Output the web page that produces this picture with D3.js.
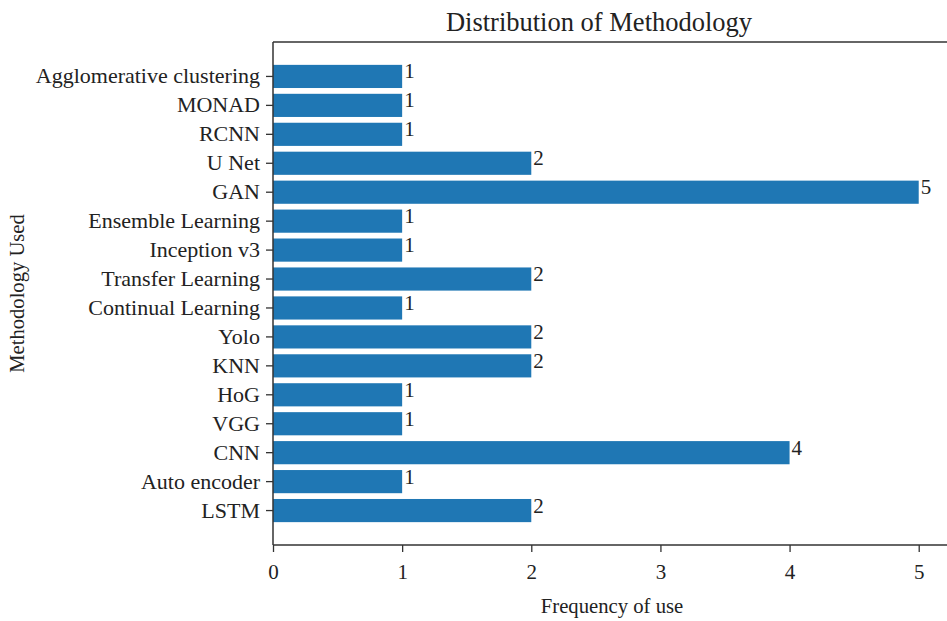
<!DOCTYPE html>
<html>
<head>
<meta charset="utf-8">
<script src="https://cdn.jsdelivr.net/npm/d3@7"></script>
<style>
  html, body { margin: 0; padding: 0; background: #fff; }
  svg { display: block; }
  text { font-family: "Liberation Serif", "Times New Roman", serif; fill: #222; }
</style>
</head>
<body>
<svg id="chart" width="947" height="621"></svg>
<script>
// categories listed bottom-to-top as in the source plot
const categories = ["LSTM", "Auto encoder", "CNN", "VGG", "HoG", "KNN", "Yolo",
  "Continual Learning", "Transfer Learning", "Inception v3", "Ensemble Learning",
  "GAN", "U Net", "RCNN", "MONAD", "Agglomerative clustering"];
const counts = [2, 1, 4, 1, 1, 2, 2, 1, 2, 1, 1, 5, 2, 1, 1, 1];
const xTicks = [0, 1, 2, 3, 4, 5];
const title = "Distribution of Methodology";
const xLabel = "Frequency of use";
const yLabel = "Methodology Used";

(function () {
const svg = d3.select("#chart");
const mLeft = 273, mRight = 951, mTop = 42, mBottom = 545;

const x = d3.scaleLinear().domain([0, 5.25]).range([mLeft, mRight]);
const y = d3.scaleBand()
  .domain(categories.slice().reverse())
  .range([mTop, mBottom])
  .paddingInner(0.2)
  .paddingOuter(0.79);

const data = categories.map((c, i) => ({ c, v: counts[i] }));

// bars
svg.append("g").selectAll("rect").data(data).enter().append("rect")
  .attr("x", x(0))
  .attr("y", d => y(d.c))
  .attr("width", d => x(d.v) - x(0))
  .attr("height", y.bandwidth())
  .attr("fill", "#1f77b4");

// value labels
svg.append("g").selectAll("text").data(data).enter().append("text")
  .attr("x", d => x(d.v) + 2)
  .attr("y", d => y(d.c) + y.bandwidth() / 2 + 2)
  .attr("font-size", 21)
  .text(d => d.v);

// spines
const spine = svg.append("g").attr("stroke", "#333").attr("stroke-width", 1.5).attr("fill", "none");
spine.append("line").attr("x1", mLeft).attr("x2", mLeft).attr("y1", mTop).attr("y2", mBottom);
spine.append("line").attr("x1", mLeft).attr("x2", mRight).attr("y1", mTop).attr("y2", mTop);
spine.append("line").attr("x1", mLeft).attr("x2", mRight).attr("y1", mBottom).attr("y2", mBottom);
spine.append("line").attr("x1", mRight).attr("x2", mRight).attr("y1", mTop).attr("y2", mBottom);

// x axis
const xAxis = svg.append("g").attr("transform", `translate(0,${mBottom})`)
  .call(d3.axisBottom(x).tickValues(xTicks).tickFormat(d3.format("d")).tickSize(7).tickPadding(12));
xAxis.select(".domain").remove();
xAxis.selectAll("line").attr("stroke", "#333").attr("stroke-width", 1.3);
xAxis.selectAll("text").attr("font-size", 21).attr("fill", "#222")
  .style("font-family", "'Liberation Serif', serif");

// y axis
const yAxis = svg.append("g").attr("transform", `translate(${mLeft},0)`)
  .call(d3.axisLeft(y).tickSize(7).tickPadding(6));
yAxis.select(".domain").remove();
yAxis.selectAll("line").attr("stroke", "#333").attr("stroke-width", 1.3);
yAxis.selectAll("text").attr("font-size", 22).attr("fill", "#222")
  .style("font-family", "'Liberation Serif', serif");

// title
svg.append("text").attr("x", 599).attr("y", 31).attr("text-anchor", "middle")
  .attr("font-size", 26.5).text(title);

// x label
svg.append("text").attr("x", (mLeft + mRight) / 2).attr("y", 613).attr("text-anchor", "middle")
  .attr("font-size", 20.7).text(xLabel);

// y label
svg.append("text").attr("transform", `translate(24,${(mTop + mBottom) / 2}) rotate(-90)`)
  .attr("text-anchor", "middle").attr("font-size", 20.6).text(yLabel);
})();
</script>
</body>
</html>
